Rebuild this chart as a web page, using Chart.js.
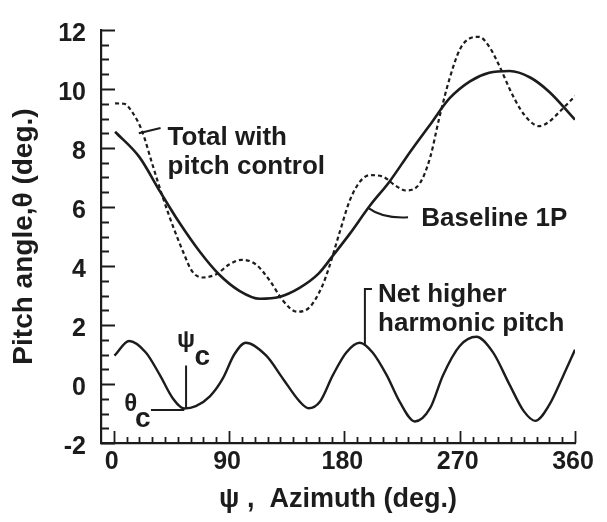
<!DOCTYPE html>
<html>
<head>
<meta charset="utf-8">
<script src="https://cdn.jsdelivr.net/npm/chart.js@4"></script>
<style>
  body { margin: 0; background: #fff; }
  canvas { display: block; }
</style>
</head>
<body>
<canvas id="pitchChart" width="607" height="522"></canvas>
<script>
const INK = '#1c1c1c';
const FONT = '"Liberation Sans", Arial, Helvetica, sans-serif';

// Baseline 1P (solid)
const baselineAz = [1, 20, 36, 51, 67, 82, 98, 114, 129, 145, 160, 171, 184, 200, 215, 231, 247, 262, 278, 293, 309, 325, 340, 360];
const baselinePitch = [8.55, 7.69, 6.53, 5.48, 4.49, 3.72, 3.16, 2.89, 2.95, 3.26, 3.75, 4.35, 5.08, 6.05, 6.85, 7.85, 8.8, 9.68, 10.26, 10.55, 10.61, 10.39, 9.9, 8.96];

// Total with pitch control (dashed)
const totalAz = [1, 8, 14, 22, 30, 38, 46, 54, 61, 69, 80, 90, 100, 111, 122, 132, 143, 153, 163, 168, 176, 184, 192, 200, 210, 220, 228, 239, 247, 254, 262, 270, 278, 285, 293, 301, 309, 317, 325, 332, 340, 348, 360];
const totalPitch = [9.51, 9.5, 9.24, 8.58, 7.46, 6.36, 5.37, 4.49, 3.83, 3.61, 3.72, 4.05, 4.21, 4.05, 3.49, 2.83, 2.45, 2.61, 3.35, 3.95, 5.1, 6.2, 6.85, 7.08, 7.03, 6.72, 6.56, 6.81, 7.69, 9.01, 10.34, 11.33, 11.72, 11.77, 11.44, 10.78, 10.0, 9.34, 8.9, 8.74, 8.9, 9.23, 9.76];

// Net higher harmonic pitch (solid, lower)
const netAz = [0.5, 12, 25, 36, 46, 55, 64, 75, 85, 94, 103, 119, 132, 145, 152, 161, 171, 181.5, 192, 202, 213, 223, 235, 247, 257, 270, 283, 296, 309, 320, 329, 340, 351, 360];
const netPitch = [0.96, 1.46, 1.07, 0.3, -0.48, -0.83, -0.75, -0.42, 0.18, 1.0, 1.4, 0.96, 0.18, -0.59, -0.82, -0.59, 0.3, 1.07, 1.4, 1.07, 0.3, -0.59, -1.27, -0.81, 0.3, 1.29, 1.6, 1.07, -0.03, -0.92, -1.25, -0.7, 0.3, 1.16];

const xTickLabels = [0, 90, 180, 270, 360];
const yTickLabels = [-2, 0, 2, 4, 6, 8, 10, 12];

const toPoints = (xs, ys) => xs.map((v, i) => ({ x: v, y: ys[i] }));

// inward tick marks, like the original plot
const tickMarks = {
  id: 'tickMarks',
  afterDraw(chart) {
    const { ctx, chartArea: a, scales: { x, y } } = chart;
    ctx.save();
    ctx.strokeStyle = INK;
    ctx.lineWidth = 1.8;
    ctx.beginPath();
    for (let v = 0; v <= 360; v += 10) {
      const px = Math.round(x.getPixelForValue(v)) + 0.5;
      const len = v % 90 === 0 ? 12 : 6;
      ctx.moveTo(px, a.bottom);
      ctx.lineTo(px, a.bottom - len);
    }
    for (let v = -2; v <= 12; v += 0.5) {
      const py = Math.round(y.getPixelForValue(v)) + 0.5;
      const len = v % 2 === 0 ? 14 : 8;
      ctx.moveTo(a.left, py);
      ctx.lineTo(a.left + len, py);
    }
    ctx.stroke();
    ctx.restore();
  }
};

// curve labels and leader lines
const notes = {
  id: 'notes',
  afterDraw(chart) {
    const { ctx, scales: { x, y } } = chart;
    const X = v => x.getPixelForValue(v);
    const Y = v => y.getPixelForValue(v);
    ctx.save();
    ctx.fillStyle = INK;
    ctx.strokeStyle = INK;
    ctx.lineWidth = 2;
    ctx.textBaseline = 'alphabetic';
    ctx.textAlign = 'left';

    ctx.font = 'bold 26px ' + FONT;
    ctx.fillText('Total with', X(42), Y(8.09));
    ctx.fillText('pitch control', X(42), Y(7.12));
    ctx.fillText('Baseline 1P', X(240), Y(5.37));
    ctx.fillText('Net higher', X(206.3), Y(2.78));
    ctx.fillText('harmonic pitch', X(206.3), Y(1.79));

    ctx.beginPath();
    // Total leader
    ctx.moveTo(X(19.5), Y(8.5));
    ctx.lineTo(X(36.5), Y(8.68));
    // Baseline leader
    ctx.moveTo(X(198.5), Y(5.97));
    ctx.quadraticCurveTo(X(210), Y(5.6), X(229.7), Y(5.65));
    // Net leader
    ctx.moveTo(X(196), Y(1.3));
    ctx.lineTo(X(196), Y(3.22));
    ctx.lineTo(X(201.5), Y(3.22));
    // psi_c and theta_c markers
    ctx.moveTo(X(56.4), Y(0.63));
    ctx.lineTo(X(56.4), Y(-0.83));
    ctx.moveTo(X(29), Y(-0.88));
    ctx.lineTo(X(55), Y(-0.88));
    ctx.stroke();

    ctx.textAlign = 'center';
    ctx.font = 'bold 24px ' + FONT;
    ctx.fillText('ψ', X(56.4), Y(1.25));
    ctx.fillText('θ', X(13.3), Y(-0.9));
    ctx.font = 'bold 28px ' + FONT;
    ctx.fillText('c', X(69), Y(0.65));
    ctx.fillText('c', X(22.7), Y(-1.47));
    ctx.restore();
  }
};

const ctx = document.getElementById('pitchChart').getContext('2d');

new Chart(ctx, {
  type: 'line',
  data: {
    datasets: [
      {
        label: 'Baseline 1P',
        data: toPoints(baselineAz, baselinePitch),
        borderColor: INK,
        borderWidth: 2.6,
        cubicInterpolationMode: 'monotone',
        fill: false
      },
      {
        label: 'Total with pitch control',
        data: toPoints(totalAz, totalPitch),
        borderColor: INK,
        borderWidth: 2.2,
        borderDash: [4, 3],
        cubicInterpolationMode: 'monotone',
        fill: false
      },
      {
        label: 'Net higher harmonic pitch',
        data: toPoints(netAz, netPitch),
        borderColor: INK,
        borderWidth: 2.4,
        cubicInterpolationMode: 'monotone',
        fill: false
      }
    ]
  },
  options: {
    responsive: false,
    animation: false,
    devicePixelRatio: 1,
    layout: { padding: { top: 20, right: 32, left: 0, bottom: 0 } },
    elements: { point: { radius: 0 } },
    plugins: {
      legend: { display: false },
      tooltip: { enabled: false }
    },
    scales: {
      x: {
        type: 'linear',
        min: -10,
        max: 360,
        afterFit: s => { s.height = 79; },
        grid: { display: false, drawTicks: false },
        border: { display: true, color: INK, width: 2.2 },
        afterBuildTicks: s => { s.ticks = xTickLabels.map(v => ({ value: v })); },
        ticks: {
          autoSkip: false,
          maxRotation: 0,
          padding: 4,
          labelOffset: -2,
          color: INK,
          font: { family: FONT, size: 25, weight: 'bold' }
        },
        title: {
          display: true,
          text: 'ψ ,  Azimuth (deg.)',
          color: INK,
          padding: { top: 0, bottom: 6 },
          font: { family: FONT, size: 27, weight: 'bold' }
        }
      },
      y: {
        type: 'linear',
        min: -2,
        max: 12,
        afterFit: s => { s.width = 101; },
        grid: { display: false, drawTicks: false },
        border: { display: true, color: INK, width: 2.2 },
        afterBuildTicks: s => { s.ticks = yTickLabels.map(v => ({ value: v })); },
        ticks: {
          autoSkip: false,
          padding: 15,
          labelOffset: 4,
          color: INK,
          font: { family: FONT, size: 25, weight: 'bold' }
        },
        title: {
          display: true,
          text: 'Pitch angle,θ (deg.)',
          color: INK,
          padding: { top: 7, bottom: 0 },
          font: { family: FONT, size: 28, weight: 'bold' }
        }
      }
    }
  },
  plugins: [tickMarks, notes]
});
</script>
</body>
</html>
